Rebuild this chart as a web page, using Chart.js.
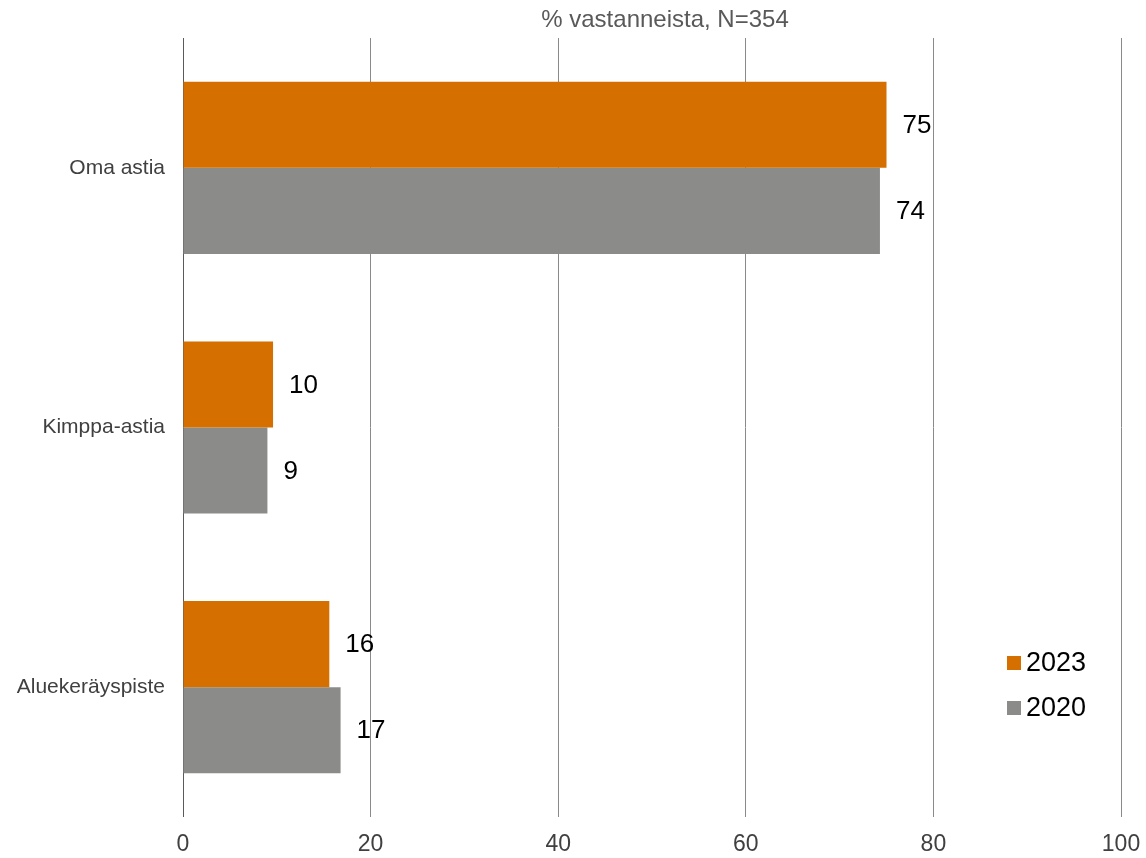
<!DOCTYPE html>
<html>
<head>
<meta charset="utf-8">
<script src="https://cdn.jsdelivr.net/npm/chart.js"></script>
<style>
  body { margin: 0; background: #fff; }
  #wrap { width: 1146px; height: 858px; }
</style>
</head>
<body>
<div id="wrap"><canvas id="chart" width="1146" height="858"></canvas></div>
<script>
// data
const categories = ['Oma astia', 'Kimppa-astia', 'Aluekeräyspiste'];
const seriesNames = ['2023', '2020'];
const values2023 = [75.0, 9.6, 15.6];
const values2020 = [74.3, 9.0, 16.8];
const xTicks = [0, 20, 40, 60, 80, 100];
const subtitle = '% vastanneista, N=354';

const ORANGE = '#d46f00';
const GREY = '#8b8b89';
const FONT = "'Liberation Sans', Arial, sans-serif";

// value labels right of the bars
const valueLabels = {
    id: 'valueLabels',
    afterDatasetsDraw(chart) {
        const ctx = chart.ctx;
        ctx.save();
        ctx.font = '26px ' + FONT;
        ctx.fillStyle = '#000';
        ctx.textAlign = 'left';
        ctx.textBaseline = 'middle';
        chart.data.datasets.forEach((ds, i) => {
            chart.getDatasetMeta(i).data.forEach((bar, j) => {
                ctx.fillText(Math.round(ds.data[j]), bar.x + 16, bar.y + 1);
            });
        });
        ctx.restore();
    }
};

// title on top and legend inside the plot
const extras = {
    id: 'extras',
    afterDraw(chart) {
        const ctx = chart.ctx;
        ctx.save();
        ctx.font = '24px ' + FONT;
        ctx.fillStyle = '#595959';
        ctx.textAlign = 'center';
        ctx.textBaseline = 'middle';
        ctx.fillText(subtitle, 665, 20);

        ctx.font = '27px ' + FONT;
        ctx.textAlign = 'left';
        chart.data.datasets.forEach((ds, i) => {
            const y = 663 + i * 45;
            ctx.fillStyle = ds.backgroundColor;
            ctx.fillRect(1007, y - 7, 14, 14);
            ctx.fillStyle = '#000';
            ctx.fillText(ds.label, 1026, y + 1);
        });
        ctx.restore();
    }
};

new Chart(document.getElementById('chart').getContext('2d'), {
    type: 'bar',
    data: {
        labels: categories,
        datasets: [
            { label: seriesNames[0], data: values2023, backgroundColor: ORANGE },
            { label: seriesNames[1], data: values2020, backgroundColor: GREY }
        ]
    },
    options: {
        indexAxis: 'y',
        responsive: false,
        animation: false,
        categoryPercentage: 0.663,
        barPercentage: 1,
        layout: { padding: { top: 38, right: 25, left: 0, bottom: 0 } },
        scales: {
            x: {
                min: 0,
                max: 100,
                afterBuildTicks: (scale) => { scale.ticks = xTicks.map(v => ({ value: v })); },
                afterFit: (scale) => {
                    scale.height = 41;
                    scale.paddingLeft = 0;
                    scale.paddingRight = 0;
                },
                grid: {
                    drawTicks: false,
                    color: (c) => c.index === 0 ? '#5a5a5a' : '#8a8a8a',
                    lineWidth: 1
                },
                border: { display: false },
                ticks: {
                    padding: 14,
                    color: '#404040',
                    font: { family: FONT, size: 23 }
                }
            },
            y: {
                afterFit: (scale) => { scale.width = 183; },
                grid: { display: false, drawTicks: false },
                border: { display: false },
                ticks: {
                    padding: 18,
                    color: '#404040',
                    font: { family: FONT, size: 21 }
                }
            }
        },
        plugins: {
            legend: { display: false },
            tooltip: { enabled: false }
        }
    },
    plugins: [valueLabels, extras]
});
</script>
</body>
</html>
